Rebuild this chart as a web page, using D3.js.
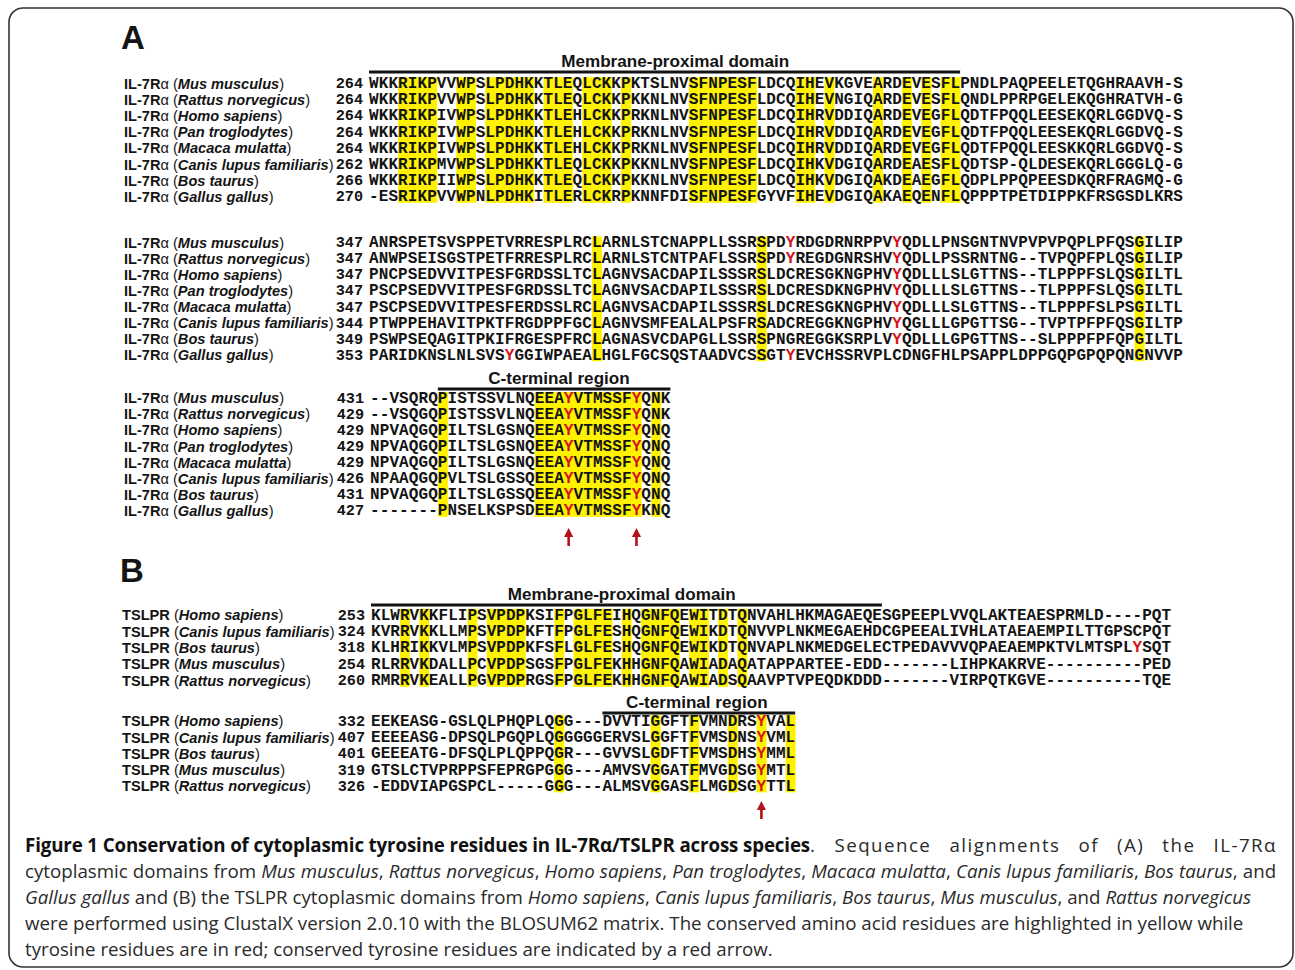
<!DOCTYPE html>
<html>
<head>
<meta charset="utf-8">
<script src="https://cdn.jsdelivr.net/npm/d3@7"></script>
<style>
  body { margin: 0; background: #fff; }
  svg { display: block; }
</style>
</head>
<body>
<svg id="fig" width="1295" height="970"></svg>
<script>
// ---------- data ----------
const speciesA = ["Mus musculus", "Rattus norvegicus", "Homo sapiens", "Pan troglodytes",
                  "Macaca mulatta", "Canis lupus familiaris", "Bos taurus", "Gallus gallus"];
const speciesB = ["Homo sapiens", "Canis lupus familiaris", "Bos taurus", "Mus musculus", "Rattus norvegicus"];

// IL-7Ra, block 1
const startA1 = [264, 264, 264, 264, 264, 262, 266, 270];
const seqA1 = [
  "WKKRIKPVVWPSLPDHKKTLEQLCKKPKTSLNVSFNPESFLDCQIHEVKGVEARDEVESFLPNDLPAQPEELETQGHRAAVH-S",
  "WKKRIKPVVWPSLPDHKKTLEQLCKKPKKNLNVSFNPESFLDCQIHEVNGIQARDEVESFLQNDLPPRPGELEKQGHRATVH-G",
  "WKKRIKPIVWPSLPDHKKTLEHLCKKPRKNLNVSFNPESFLDCQIHRVDDIQARDEVEGFLQDTFPQQLEESEKQRLGGDVQ-S",
  "WKKRIKPIVWPSLPDHKKTLEHLCKKPRKNLNVSFNPESFLDCQIHRVDDIQARDEVEGFLQDTFPQQLEESEKQRLGGDVQ-S",
  "WKKRIKPIVWPSLPDHKKTLEHLCKKPRKNLNVSFNPESFLDCQIHRVDDIQARDEVEGFLQDTFPQQLEESKKQRLGGDVQ-S",
  "WKKRIKPMVWPSLPDHKKTLEQLCKKPKKNLNVSFNPESFLDCQIHKVDGIQARDEAESFLQDTSP-QLDESEKQRLGGGLQ-G",
  "WKKRIKPIIWPSLPDHKKTLEQLCKKPKKNLNVSFNPESFLDCQIHKVDGIQAKDEAEGFLQDPLPPQPEESDKQRFRAGMQ-G",
  "-ESRIKPVVWPNLPDHKITLERLCKRPKNNFDISFNPESFGYVFIHEVDGIQAKAEQENFLQPPPTPETDIPPKFRSGSDLKRS"
];
const consA1 = [3, 4, 5, 6, 9, 10, 12, 13, 14, 15, 16, 18, 19, 20, 22, 23, 24, 26,
                33, 34, 35, 36, 37, 38, 39, 44, 45, 47, 52, 55, 57, 59, 60];
const redA1 = [];

// IL-7Ra, block 2
const startA2 = [347, 347, 347, 347, 347, 344, 349, 353];
const seqA2 = [
  "ANRSPETSVSPPETVRRESPLRCLARNLSTCNAPPLLSSRSPDYRDGDRNRPPVYQDLLPNSGNTNVPVPVPQPLPFQSGILIP",
  "ANWPSEISGSTPETFRRESPLRCLARNLSTCNTPAFLSSRSPDYREGDGNRSHVYQDLLPSSRNTNG--TVPQPFPLQSGILIP",
  "PNCPSEDVVITPESFGRDSSLTCLAGNVSACDAPILSSSRSLDCRESGKNGPHVYQDLLLSLGTTNS--TLPPPFSLQSGILTL",
  "PSCPSEDVVITPESFGRDSSLTCLAGNVSACDAPILSSSRSLDCRESDKNGPHVYQDLLLSLGTTNS--TLPPPFSLQSGILTL",
  "PSCPSEDVVITPESFERDSSLRCLAGNVSACDAPILSSSRSLDCRESGKNGPHVYQDLLLSLGTTNS--TLPPPFSLPSGILTL",
  "PTWPPEHAVITPKTFRGDPPFGCLAGNVSMFEALALPSFRSADCREGGKNGPHVYQGLLLGPGTTSG--TVPTPFPFQSGILTP",
  "PSWPSEQAGITPKIFRGESPFRCLAGNASVCDAPGLLSSRSPNGREGGKSRPLVYQDLLLGPGTTNS--SLPPPFPFQPGILTL",
  "PARIDKNSLNLSVSYGGIWPAEALHGLFGCSQSTAADVCSSGTYEVCHSSRVPLCDNGFHLPSAPPLDPPGQPGPQPQNGNVVP"
];
const consA2 = [23, 40, 79];
const redA2 = [[0, 43], [0, 54], [1, 43], [1, 54], [2, 54], [3, 54], [4, 54],
               [5, 54], [6, 54], [7, 14], [7, 43]];

// IL-7Ra, block 3
const startA3 = [431, 429, 429, 429, 429, 426, 431, 427];
const seqA3 = [
  "--VSQRQPISTSSVLNQEEAYVTMSSFYQNK",
  "--VSQGQPISTSSVLNQEEAYVTMSSFYQNK",
  "NPVAQGQPILTSLGSNQEEAYVTMSSFYQNQ",
  "NPVAQGQPILTSLGSNQEEAYVTMSSFYQNQ",
  "NPVAQGQPILTSLGSNQEEAYVTMSSFYQNQ",
  "NPAAQGQPVLTSLGSSQEEAYVTMSSFYQNQ",
  "NPVAQGQPILTSLGSSQEEAYVTMSSFYQNQ",
  "-------PNSELKSPSDEEAYVTMSSFYKNQ"
];
const consA3 = [7, 17, 18, 19, 20, 21, 22, 23, 24, 25, 26, 27, 29];
const redA3 = [[0, 20], [0, 27], [1, 20], [1, 27], [2, 20], [2, 27], [3, 20], [3, 27],
               [4, 20], [4, 27], [5, 20], [5, 27], [6, 20], [6, 27], [7, 20], [7, 27]];
const arrowsA3 = [20, 27];

// TSLPR, block 1
const startB1 = [253, 324, 318, 254, 260];
const seqB1 = [
  "KLWRVKKFLIPSVPDPKSIFPGLFEIHQGNFQEWITDTQNVAHLHKMAGAEQESGPEEPLVVQLAKTEAESPRMLD----PQT",
  "KVRRVKKLLMPSVPDPKFTFPGLFESHQGNFQEWIKDTQNVVPLNKMEGAEHDCGPEEALIVHLATAEAEMPILTTGPSCPQT",
  "KLHRIKKVLMPSVPDPKFSFLGLFESHQGNFQEWIKDTQNVAPLNKMEDGELECTPEDAVVVQPAEAEMPKTVLMTSPLYSQT",
  "RLRRVKDALLPCVPDPSGSFPGLFEKHHGNFQAWIADAQATAPPARTEE-EDD-------LIHPKAKRVE----------PED",
  "RMRRVKEALLPGVPDPRGSFPGLFEKHHGNFQAWIADSQAAVPTVPEQDKDDD-------VIRPQTKGVE----------TQE"
];
const consB1 = [3, 5, 10, 12, 13, 14, 15, 19, 21, 22, 23, 24, 26, 28, 29, 30, 31, 33, 34, 36, 38];
const redB1 = [[2, 79]];

// TSLPR, block 2
const startB2 = [332, 407, 401, 319, 326];
const seqB2 = [
  "EEKEASG-GSLQLPHQPLQGG---DVVTIGGFTFVMNDRSYVAL",
  "EEEEASG-DPSQLPGQPLQGGGGGERVSLGGFTFVMSDNSYVML",
  "GEEEATG-DFSQLPLQPPQGR---GVVSLGDFTFVMSDHSYMML",
  "GTSLCTVPRPPSFEPRGPGGG---AMVSVGGATFMVGDSGYMTL",
  "-EDDVIAPGSPCL-----GGG---ALMSVGGASFLMGDSGYTTL"
];
const consB2 = [19, 29, 33, 37, 40, 43];
const redB2 = [[0, 40], [1, 40], [2, 40], [3, 40], [4, 40]];
const arrowsB2 = [40];

const captionLines = [
  "*Figure 1 Conservation of cytoplasmic tyrosine residues in IL-7Rα/TSLPR across species*. Sequence alignments of (A) the IL-7Rα",
  "cytoplasmic domains from _Mus musculus_, _Rattus norvegicus_, _Homo sapiens_, _Pan troglodytes_, _Macaca mulatta_, _Canis lupus familiaris_, _Bos taurus_, and",
  "_Gallus gallus_ and (B) the TSLPR cytoplasmic domains from _Homo sapiens_, _Canis lupus familiaris_, _Bos taurus_, _Mus musculus_, and _Rattus norvegicus_",
  "were performed using ClustalX version 2.0.10 with the BLOSUM62 matrix. The conserved amino acid residues are highlighted in yellow while",
  "tyrosine residues are in red; conserved tyrosine residues are indicated by a red arrow."
];

// ---------- style ----------
const YELLOW = "#fff200";
const RED = "#d4141e";
const ARROW = "#b3121a";
const INK = "#141414";
const MONO = "'Liberation Mono', 'Courier New', monospace";
const SANS = "'Liberation Sans', Arial, Helvetica, sans-serif";
const CAPTION = "'Open Sans', 'Noto Sans', sans-serif";

const svg = d3.select("#fig");

svg.append("rect")
  .attr("x", 9).attr("y", 8)
  .attr("width", 1284).attr("height", 959)
  .attr("rx", 14)
  .attr("fill", "none")
  .attr("stroke", "#333")
  .attr("stroke-width", 1.6);

// panel letters
svg.append("text").attr("x", 121).attr("y", 49).text("A")
  .attr("font-family", SANS).attr("font-weight", "bold").attr("font-size", 33).attr("fill", INK);
svg.append("text").attr("x", 120).attr("y", 582).text("B")
  .attr("font-family", SANS).attr("font-weight", "bold").attr("font-size", 33).attr("fill", INK);

const blocks = [
  { prefix: "IL-7R", alpha: true, species: speciesA, starts: startA1, seqs: seqA1, cons: consA1, red: redA1,
    x0: 369, step: 9.69, y0: 75.2, rowH: 16.2, labelX: 124,
    domain: { title: "Membrane-proximal domain", from: 0, to: 60, lineY: 72, titleCol: 31.6 } },
  { prefix: "IL-7R", alpha: true, species: speciesA, starts: startA2, seqs: seqA2, cons: consA2, red: redA2,
    x0: 369, step: 9.69, y0: 234.45, rowH: 16.1, labelX: 124 },
  { prefix: "IL-7R", alpha: true, species: speciesA, starts: startA3, seqs: seqA3, cons: consA3, red: redA3,
    x0: 370, step: 9.69, y0: 390, rowH: 16.1, labelX: 124, arrows: arrowsA3, arrowY: 528,
    domain: { title: "C-terminal region", from: 7, to: 30, lineY: 389, titleCol: 19.5 } },
  { prefix: "TSLPR", alpha: false, species: speciesB, starts: startB1, seqs: seqB1, cons: consB1, red: redB1,
    x0: 371, step: 9.64, y0: 606.8, rowH: 16.4, labelX: 122,
    domain: { title: "Membrane-proximal domain", from: 0, to: 52, lineY: 605, titleCol: 26 } },
  { prefix: "TSLPR", alpha: false, species: speciesB, starts: startB2, seqs: seqB2, cons: consB2, red: redB2,
    x0: 371, step: 9.64, y0: 712.85, rowH: 16.3, labelX: 122, arrows: arrowsB2, arrowY: 801,
    domain: { title: "C-terminal region", from: 24, to: 43, lineY: 713, titleCol: 33.8 } }
];

function drawBlock(b) {
  const g = svg.append("g");
  const nCols = b.seqs[0].length;
  const nRows = b.seqs.length;
  const x = d3.scaleBand().domain(d3.range(nCols)).range([b.x0, b.x0 + nCols * b.step]);
  const y = d3.scaleBand().domain(d3.range(nRows)).range([b.y0, b.y0 + nRows * b.rowH]);
  const base = r => y(r) + y.bandwidth() / 2 + 4.6;

  // conserved columns
  g.selectAll("rect.cons").data(b.cons).join("rect")
    .attr("class", "cons")
    .attr("x", c => x(c))
    .attr("y", b.y0 + 2)
    .attr("width", x.bandwidth() + 0.4)
    .attr("height", nRows * b.rowH - 4)
    .attr("fill", YELLOW);

  // domain overline + title
  if (b.domain) {
    const d = b.domain;
    g.append("line")
      .attr("x1", x(d.from)).attr("x2", x(d.to) + x.bandwidth())
      .attr("y1", d.lineY).attr("y2", d.lineY)
      .attr("stroke", INK).attr("stroke-width", 2.8);
    g.append("text")
      .attr("x", x(0) + d.titleCol * b.step)
      .attr("y", d.lineY - 4.8)
      .attr("text-anchor", "middle")
      .attr("font-family", SANS).attr("font-weight", "bold").attr("font-size", 17.1)
      .attr("fill", INK)
      .text(d.title);
  }

  // species labels
  const lab = g.selectAll("text.lab").data(b.species).join("text")
    .attr("class", "lab")
    .attr("x", b.labelX)
    .attr("y", (s, i) => base(i) + 0.6)
    .attr("font-family", SANS).attr("font-size", 14.6).attr("fill", INK);
  lab.append("tspan").attr("font-weight", "bold").text(b.prefix);
  if (b.alpha) lab.append("tspan").text("α");
  lab.append("tspan").text(" (");
  lab.append("tspan").attr("font-weight", "bold").attr("font-style", "italic").text(s => s);
  lab.append("tspan").text(")");

  // start numbers
  g.selectAll("text.num").data(b.starts).join("text")
    .attr("class", "num")
    .attr("x", b.x0 - 6)
    .attr("y", (n, i) => base(i))
    .attr("text-anchor", "end")
    .attr("font-family", MONO).attr("font-weight", "bold").attr("font-size", 15.2)
    .attr("fill", INK)
    .text(n => n);

  // residues
  const redSet = new Set(b.red.map(p => p[0] + ":" + p[1]));
  const cells = b.seqs.flatMap((s, r) => Array.from(s, (ch, c) => ({ r, c, ch })));
  g.selectAll("text.res").data(cells).join("text")
    .attr("class", "res")
    .attr("x", d => x(d.c) + x.bandwidth() / 2)
    .attr("y", d => base(d.r))
    .attr("text-anchor", "middle")
    .attr("font-family", MONO).attr("font-weight", "bold").attr("font-size", 16)
    .attr("fill", d => redSet.has(d.r + ":" + d.c) ? RED : INK)
    .text(d => d.ch);

  // arrows under conserved tyrosines
  if (b.arrows) {
    const arrow = cx => {
      const t = b.arrowY;
      return `M${cx},${t} L${cx + 4.6},${t + 9} L${cx + 1.3},${t + 9} L${cx + 1.3},${t + 18} ` +
             `L${cx - 1.3},${t + 18} L${cx - 1.3},${t + 9} L${cx - 4.6},${t + 9} Z`;
    };
    g.selectAll("path.arrow").data(b.arrows).join("path")
      .attr("class", "arrow")
      .attr("d", c => arrow(x(c) + x.bandwidth() / 2))
      .attr("fill", ARROW);
  }
}

blocks.forEach(drawBlock);

// ---------- caption ----------
const capX = 25;
const capBase = [852, 878, 904, 930, 956];
const capRight = 1277;
const capBoldRight = 810;
const capG = svg.append("g")
  .attr("font-family", CAPTION).attr("fill", "#2a2a2a");

function parseRuns(line) {
  return line.split(/(\*[^*]+\*|_[^_]+_)/).filter(s => s.length).map(s => {
    if (s[0] === "*") return { t: s.slice(1, -1), b: true };
    if (s[0] === "_") return { t: s.slice(1, -1), i: true };
    return { t: s };
  });
}

const capTexts = captionLines.map((line, i) => {
  const t = capG.append("text").attr("x", capX).attr("y", capBase[i]).attr("font-size", 18);
  parseRuns(line).forEach(run => {
    const ts = t.append("tspan").datum(run).text(run.t);
    if (run.b) ts.attr("font-weight", "bold").attr("fill", "#111");
    if (run.i) ts.attr("font-style", "italic");
  });
  return t;
});

// size so that the plain fourth line spans its measured width
const refLen = capTexts[3].node().getComputedTextLength();
const fs = 18 * 1219 / refLen;
capTexts.forEach(t => t.attr("font-size", fs));

// first line: tighten the bold title, spread the rest to the right edge
{
  const t = capTexts[0];
  const spans = t.selectAll("tspan");
  const bold = spans.filter(r => r.b);
  const rest = spans.filter(r => !r.b);
  const bLen = bold.node().getComputedTextLength();
  const bChars = bold.datum().t.length;
  bold.attr("letter-spacing", (capBoldRight - capX - bLen) / bChars);
  let rLen = 0, rChars = 0, rSpaces = 0;
  rest.each(function (r) {
    rLen += this.getComputedTextLength();
    rChars += r.t.length;
    rSpaces += (r.t.match(/ /g) || []).length;
  });
  const extra = (capRight - capBoldRight) - rLen;
  if (extra > 0) {
    rest.attr("letter-spacing", extra * 0.45 / rChars)
        .attr("word-spacing", extra * 0.55 / rSpaces);
  }
}
// second line: plain justification
{
  const t = capTexts[1];
  const len = t.node().getComputedTextLength();
  const spaces = (captionLines[1].match(/ /g) || []).length;
  if (len < capRight - 1 - capX) t.attr("word-spacing", (capRight - 1 - capX - len) / spaces);
}
</script>
</body>
</html>
